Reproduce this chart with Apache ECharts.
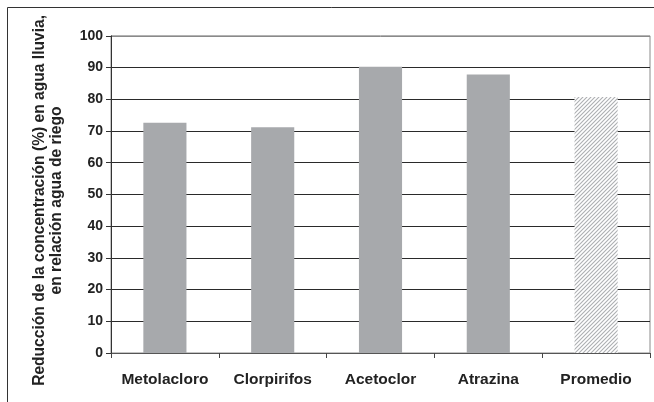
<!DOCTYPE html>
<html>
<head>
<meta charset="utf-8">
<script src="https://cdn.jsdelivr.net/npm/echarts@6/dist/echarts.min.js"></script>
<style>
  html, body { margin: 0; padding: 0; background: #fff; }
  #chart { width: 654px; height: 402px; }
</style>
</head>
<body>
<div id="chart"></div>
<script>
// Reducción de la concentración de plaguicidas en agua de lluvia
const categories = ['Metolacloro', 'Clorpirifos', 'Acetoclor', 'Atrazina', 'Promedio'];
const reduccion = [72.6, 71.2, 90.3, 87.8, 80.7];
const yTicks = [0, 10, 20, 30, 40, 50, 60, 70, 80, 90, 100];

// diagonal hatch used for the average bar
function hatchPattern() {
  const c = document.createElement('canvas');
  c.width = 4; c.height = 4;
  const g = c.getContext('2d');
  g.fillStyle = '#ffffff';
  g.fillRect(0, 0, 4, 4);
  g.strokeStyle = '#adafb2';
  g.lineWidth = 1.1;
  g.beginPath();
  g.moveTo(-1, 5); g.lineTo(5, -1);
  g.moveTo(-1, 1); g.lineTo(1, -1);
  g.moveTo(3, 5); g.lineTo(5, 3);
  g.stroke();
  return { image: c, repeat: 'repeat' };
}

const gridColors = yTicks.map((v, i) => i === yTicks.length - 1 ? '#8a8a8a' : '#2a2a2a');

const chart = echarts.init(document.getElementById('chart'), null, { renderer: 'canvas' });
chart.setOption({
  backgroundColor: '#ffffff',
  animation: false,
  graphic: [{
    type: 'rect',
    shape: { x: 7.5, y: 7.5, width: 700, height: 420 },
    style: { fill: 'none', stroke: '#333', lineWidth: 1 },
    silent: true,
    z: -1
  }],
  grid: {
    left: 111, right: 4, top: 35, bottom: 49,
    show: true, borderColor: '#8a8a8a', borderWidth: 1, backgroundColor: 'transparent'
  },
  xAxis: {
    type: 'category',
    data: categories,
    axisLine: { lineStyle: { color: '#555', width: 1 } },
    axisTick: { show: true, length: 5, lineStyle: { color: '#444' } },
    axisLabel: {
      interval: 0,
      color: '#222', fontFamily: 'Liberation Sans, Arial, sans-serif',
      fontWeight: 'bold', fontSize: 15.5, margin: 19
    }
  },
  yAxis: {
    type: 'value',
    min: 0, max: 100, interval: 10,
    name: 'Reducción de la concentración (%) en agua lluvia,\nen relación agua de riego',
    nameLocation: 'middle',
    nameGap: 46,
    nameTextStyle: {
      color: '#222', fontFamily: 'Liberation Sans, Arial, sans-serif',
      fontWeight: 'bold', fontSize: 15.6, lineHeight: 17,
      padding: [0, 12, 0, 0]
    },
    axisLine: { show: true, lineStyle: { color: '#333', width: 1 } },
    axisTick: { show: true, length: 5, lineStyle: { color: '#333' } },
    axisLabel: {
      color: '#222', fontFamily: 'Liberation Sans, Arial, sans-serif',
      fontWeight: 'bold', fontSize: 14, margin: 8,
      formatter: v => yTicks.includes(v) ? String(v) : ''
    },
    splitLine: { show: true, lineStyle: { color: gridColors, width: 1 } }
  },
  series: [{
    type: 'bar',
    barWidth: '40%',
    data: reduccion.map((v, i) => i === reduccion.length - 1
      ? { value: v, itemStyle: { color: hatchPattern() } }
      : { value: v, itemStyle: { color: '#a7a9ac' } }),
    z: 3
  }]
});
</script>
</body>
</html>
